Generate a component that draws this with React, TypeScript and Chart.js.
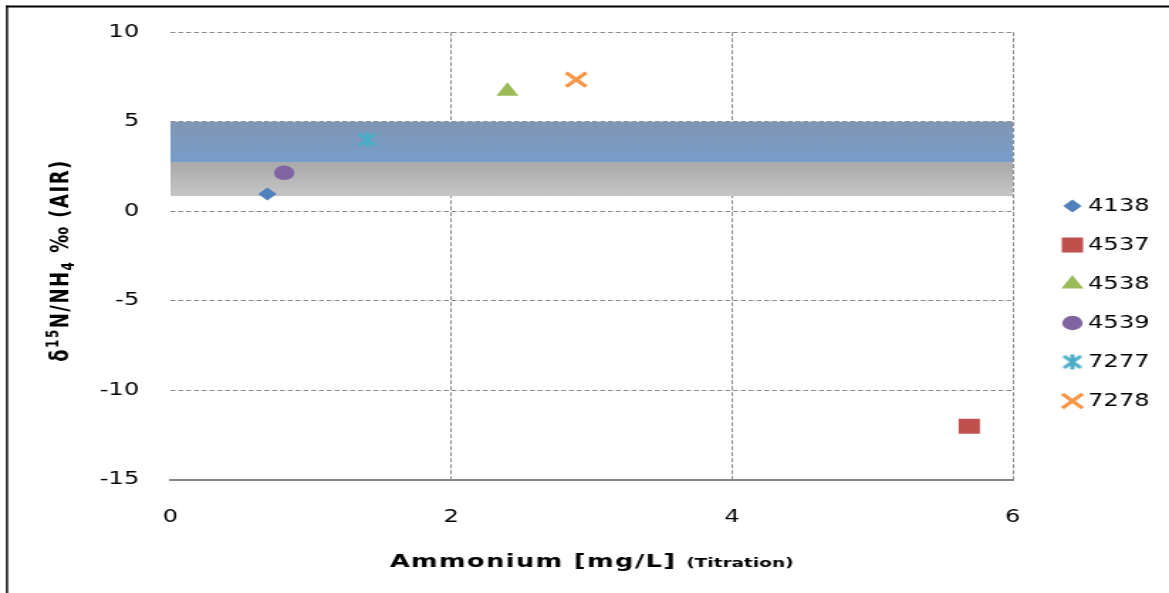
import React, { useEffect, useRef } from "react";
import { Chart, registerables } from "chart.js";
import { drawPoint } from "chart.js/helpers";

Chart.register(...registerables);

// ---- data ----
const seriesNames = ["4138", "4537", "4538", "4539", "7277", "7278"];
const seriesX = [[0.69], [5.69], [2.4], [0.81], [1.4], [2.89]];
const seriesY = [[0.97], [-12.0], [6.7], [2.15], [4.0], [7.35]];
const seriesColors = ["#4f81bd", "#c0504d", "#9bbb59", "#8064a2", "#4bacc6", "#f79646"];
const xRange = [0, 6];
const xStep = 2;
const yRange = [-15, 10];
const yStep = 5;
const bandXRange = [0, 6];
const blueBand = [2.75, 5];
const grayBand = [0.85, 2.75];
const xTitleMain = "Ammonium [mg/L]";
const xTitleNote = "(Titration)";
const yTitleParts = ["δ", "15", "N/NH", "4", " ‰ (AIR)"];

// ---- geometry (canvas is drawn narrow and stretched horizontally like the reference) ----
const W = 823;
const H = 593;
const SX = 1169 / W;
const FONT = "'DejaVu Sans', sans-serif";

function makeStar(color: string) {
  const c = document.createElement("canvas");
  c.width = 17;
  c.height = 17;
  const g = c.getContext("2d")!;
  g.strokeStyle = color;
  g.lineWidth = 3;
  g.beginPath();
  g.moveTo(2.5, 2.5);
  g.lineTo(14.5, 14.5);
  g.moveTo(14.5, 2.5);
  g.lineTo(2.5, 14.5);
  g.moveTo(8.5, 1);
  g.lineTo(8.5, 16);
  g.stroke();
  return c;
}

export default function App() {
  const ref = useRef<HTMLCanvasElement>(null);

  useEffect(() => {
    const canvas = ref.current!;
    const star = makeStar(seriesColors[4]);
    const styles: any[] = ["rectRot", "rect", "triangle", "circle", star, "crossRot"];
    const radii = [6.5, 10.6, 9, 7.2, 8, 10];
    const borders = [0, 0, 0, 0, 0, 3.2];

    const datasets = seriesNames.map((name, i) => ({
      label: name,
      data: seriesX[i].map((x, j) => ({ x, y: seriesY[i][j] })),
      pointStyle: styles[i],
      pointRadius: radii[i],
      pointHoverRadius: radii[i],
      pointBackgroundColor: seriesColors[i],
      pointBorderColor: seriesColors[i],
      pointBorderWidth: borders[i],
      backgroundColor: seriesColors[i],
      borderColor: seriesColors[i],
      showLine: false,
    }));

    const decor = {
      id: "decor",
      beforeDatasetsDraw(chart: any) {
        const { ctx, scales } = chart;
        const x = scales.x;
        const y = scales.y;
        const left = x.getPixelForValue(bandXRange[0]);
        const right = x.getPixelForValue(bandXRange[1]);
        ctx.save();
        const gTop = y.getPixelForValue(grayBand[1]);
        const gBot = y.getPixelForValue(grayBand[0]);
        const gg = ctx.createLinearGradient(0, gTop, 0, gBot);
        gg.addColorStop(0, "#a8a8a8");
        gg.addColorStop(1, "#c6c6c6");
        ctx.fillStyle = gg;
        ctx.fillRect(left, gTop, right - left, gBot - gTop);
        const bTop = y.getPixelForValue(blueBand[1]);
        const bBot = y.getPixelForValue(blueBand[0]);
        const bg = ctx.createLinearGradient(0, bTop, 0, bBot);
        bg.addColorStop(0, "#8096b4");
        bg.addColorStop(1, "#779dca");
        ctx.fillStyle = bg;
        ctx.fillRect(left, bTop, right - left, bBot - bTop);
        ctx.restore();
      },
      afterDraw(chart: any) {
        const { ctx, chartArea } = chart;
        ctx.save();
        // frame (top and left)
        ctx.fillStyle = "#000";
        ctx.fillRect(4.2, 5.5, W, 2);
        ctx.fillRect(4.2, 5.5, 1.45, H);

        // x title
        ctx.fillStyle = "#000";
        ctx.textBaseline = "alphabetic";
        ctx.textAlign = "left";
        ctx.font = `bold 18px ${FONT}`;
        (ctx as any).letterSpacing = "1px";
        const w1 = ctx.measureText(xTitleMain).width;
        ctx.font = `bold 13px ${FONT}`;
        (ctx as any).letterSpacing = "0px";
        const w2 = ctx.measureText(xTitleNote).width;
        const gap = 7;
        const cx = (chartArea.left + chartArea.right) / 2;
        const x0 = cx - (w1 + gap + w2) / 2;
        ctx.font = `bold 18px ${FONT}`;
        (ctx as any).letterSpacing = "1px";
        ctx.fillText(xTitleMain, x0, 567);
        ctx.font = `bold 13px ${FONT}`;
        (ctx as any).letterSpacing = "0px";
        ctx.fillText(xTitleNote, x0 + w1 + gap, 567);

        // y title (rotated, with super/subscript)
        const parts = [
          { t: yTitleParts[0], s: 18, dy: 0 },
          { t: yTitleParts[1], s: 12, dy: -7 },
          { t: yTitleParts[2], s: 18, dy: 0 },
          { t: yTitleParts[3], s: 12, dy: 4 },
          { t: yTitleParts[4], s: 18, dy: 0 },
        ];
        (ctx as any).letterSpacing = "1.5px";
        let total = 0;
        const widths = parts.map((p) => {
          ctx.font = `bold ${p.s}px ${FONT}`;
          const w = ctx.measureText(p.t).width;
          total += w;
          return w;
        });
        const cy = 260.5;
        ctx.translate(48, cy + total / 2);
        ctx.rotate(-Math.PI / 2);
        let px = 0;
        parts.forEach((p, i) => {
          ctx.font = `bold ${p.s}px ${FONT}`;
          ctx.fillText(p.t, px, p.dy);
          px += widths[i];
        });
        ctx.restore();

        // legend
        ctx.save();
        const metas = chart.data.datasets;
        metas.forEach((ds: any, i: number) => {
          const ly = 206 + i * 39;
          ctx.fillStyle = ds.pointBackgroundColor;
          ctx.strokeStyle = ds.pointBorderColor;
          ctx.lineWidth = ds.pointBorderWidth;
          drawPoint(
            ctx,
            {
              pointStyle: ds.pointStyle,
              radius: ds.pointRadius,
              rotation: 0,
              borderWidth: ds.pointBorderWidth,
            } as any,
            755,
            ly
          );
          ctx.fillStyle = "#000";
          ctx.font = `17px ${FONT}`;
          ctx.textAlign = "left";
          ctx.textBaseline = "middle";
          ctx.fillText(ds.label, 766, ly + 1);
        });
        ctx.restore();
      },
    };

    const chart = new Chart(canvas, {
      type: "scatter",
      data: { datasets: datasets as any },
      options: {
        responsive: false,
        animation: false,
        devicePixelRatio: 1,
        layout: { padding: { left: 0, right: 110, top: 31, bottom: 0 } },
        plugins: {
          legend: { display: false },
          tooltip: { enabled: false },
          title: { display: false },
        },
        scales: {
          x: {
            type: "linear",
            min: xRange[0],
            max: xRange[1],
            afterFit: (s: any) => {
              s.height = 113;
            },
            ticks: {
              stepSize: xStep,
              color: "#000",
              padding: 27,
              font: { family: FONT, size: 17 },
            },
            grid: {
              drawTicks: false,
              lineWidth: 1,
              color: (c: any) => (c.tick && c.tick.value === xRange[0] ? "rgba(0,0,0,0)" : "#8a8a8a"),
            },
            border: { display: true, color: "#868686", width: 2, dash: [4, 2] },
          },
          y: {
            type: "linear",
            min: yRange[0],
            max: yRange[1],
            afterFit: (s: any) => {
              s.width = 120;
            },
            ticks: {
              stepSize: yStep,
              color: "#000",
              padding: 22,
              font: { family: FONT, size: 17 },
            },
            grid: {
              drawTicks: false,
              lineWidth: 1,
              color: (c: any) => (c.tick && c.tick.value === yRange[0] ? "rgba(0,0,0,0)" : "#8a8a8a"),
            },
            border: { display: false, dash: [3.5, 2] },
          },
        },
      },
      plugins: [decor],
    });

    return () => chart.destroy();
  }, []);

  return (
    <div
      style={{
        position: "fixed",
        left: 0,
        top: 0,
        width: 1169,
        height: 593,
        overflow: "hidden",
        background: "#fff",
      }}
    >
      <div style={{ width: W, height: H, transform: `scaleX(${SX})`, transformOrigin: "0 0" }}>
        <canvas ref={ref} width={W} height={H} style={{ display: "block", width: W, height: H }} />
      </div>
    </div>
  );
}
